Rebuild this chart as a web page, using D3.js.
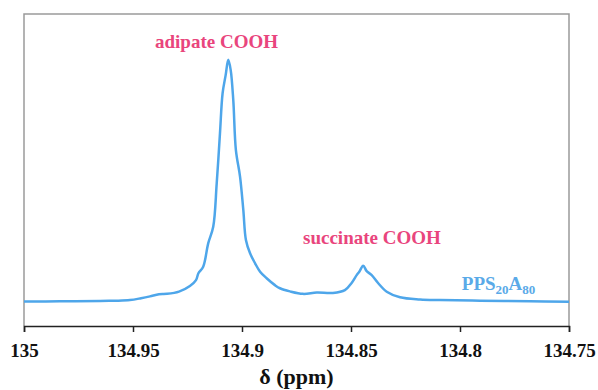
<!DOCTYPE html>
<html lang="en">
<head>
  <meta charset="UTF-8">
  <title>NMR spectrum</title>
  <script src="https://d3js.org/d3.v7.min.js"></script>
  <style>
    body { margin: 0; background: white; }
    svg text { font-family: "Times New Roman", "Liberation Serif", Tinos, "DejaVu Serif", serif; font-weight: bold; }
  </style>
</head>
<body>
<svg id="chart" width="598" height="390"></svg>

<script>
  // chemical shift (ppm) and intensity (arb. units)
  const shift = [135.000, 134.9835, 134.9651, 134.9587, 134.9514, 134.9463, 134.9422, 134.9381, 134.9344, 134.9289,
    134.9239, 134.9211, 134.9200, 134.9178, 134.9155, 134.9132, 134.9116, 134.9101, 134.9089, 134.9075,
    134.9063, 134.9052, 134.9040, 134.9028, 134.9009, 134.8994, 134.8982, 134.8963, 134.8940, 134.8917,
    134.8887, 134.8849, 134.8826, 134.8780, 134.8720, 134.8657, 134.8583, 134.8528, 134.8497, 134.8474,
    134.8462, 134.8444, 134.8428, 134.8405, 134.8375, 134.8336, 134.8275, 134.8183, 134.8092, 134.7908,
    134.7679, 134.7500];
  const intensity = [7.85, 7.9, 8.0, 8.1, 8.3, 8.9, 9.5, 10.2, 10.3, 11.0,
    12.8, 14.7, 16.9, 19.0, 26.5, 31.8, 45.7, 61.8, 74.6, 80.4,
    85.3, 82.1, 72.4, 56.4, 47.9, 37.2, 27.6, 23.3, 20.1, 17.4,
    15.3, 13.1, 12.1, 11.1, 10.3, 10.7, 10.6, 11.5, 13.8, 16.3,
    17.4, 19.3, 17.6, 16.3, 13.7, 11.0, 9.2, 8.5, 8.3, 8.1,
    7.9, 7.75];

  const xTicks = [135, 134.95, 134.9, 134.85, 134.8, 134.75];

  // peak annotations: [text, ppm, intensity]
  const annotations = [
    ["adipate COOH", 134.9117, 89.0],
    ["succinate COOH", 134.8404, 26.3]
  ];
  const sampleLabel = {ppm: 134.7823, y: 11.5};

  const width = 598, height = 390;
  const margin = {top: 14, right: 29, bottom: 64, left: 24};

  const svg = d3.select("#chart");

  const x = d3.scaleLinear()
          .domain([135, 134.75])
          .range([margin.left, width - margin.right]);

  const y = d3.scaleLinear()
          .domain([0, 100])
          .range([height - margin.bottom, margin.top]);

  // grey frame on top, left and right
  svg.append("path")
          .attr("fill", "none")
          .attr("stroke", "#9a9a9a")
          .attr("stroke-width", 1.5)
          .attr("d", `M${x(135)},${y(0)}V${y(100)}H${x(134.75)}V${y(0)}`);

  // bottom axis
  const axis = svg.append("g")
          .attr("transform", `translate(0,${y(0)})`)
          .call(d3.axisBottom(x)
                  .tickValues(xTicks)
                  .tickSize(6)
                  .tickFormat(d => String(d)));
  axis.attr("font-family", null).attr("font-size", null);
  axis.select(".domain").attr("stroke", "#222").attr("stroke-width", 1.5);
  axis.selectAll(".tick line").attr("stroke", "#222").attr("stroke-width", 1.5);
  axis.selectAll(".tick text")
          .attr("y", 18)
          .attr("fill", "#111")
          .style("font-size", "19px");

  svg.append("text")
          .attr("x", (x(135) + x(134.75)) / 2)
          .attr("y", 384)
          .attr("text-anchor", "middle")
          .attr("fill", "#111")
          .style("font-size", "22px")
          .text("δ (ppm)");

  // spectrum
  const points = shift.map((s, i) => [s, intensity[i]]);
  const line = d3.line()
          .x(d => x(d[0]))
          .y(d => y(d[1]))
          .curve(d3.curveCatmullRom.alpha(0.5));

  svg.append("path")
          .datum(points)
          .attr("fill", "none")
          .attr("stroke", "#4ea6ea")
          .attr("stroke-width", 2.5)
          .attr("stroke-linejoin", "round")
          .attr("d", line);

  // peak labels
  svg.selectAll(".peak-label")
          .data(annotations)
          .enter().append("text")
          .attr("class", "peak-label")
          .attr("x", d => x(d[1]))
          .attr("y", d => y(d[2]))
          .attr("text-anchor", "middle")
          .attr("fill", "#e9457d")
          .style("font-size", "19px")
          .text(d => d[0]);

  // sample name with subscripts
  const sample = svg.append("text")
          .attr("x", x(sampleLabel.ppm))
          .attr("y", y(sampleLabel.y))
          .attr("text-anchor", "middle")
          .attr("fill", "#5aaae8")
          .style("font-size", "19px");
  sample.append("tspan").text("PPS");
  sample.append("tspan").attr("dy", 4).style("font-size", "13px").text("20");
  sample.append("tspan").attr("dy", -4).text("A");
  sample.append("tspan").attr("dy", 4).style("font-size", "13px").text("80");
</script>
</body>
</html>
